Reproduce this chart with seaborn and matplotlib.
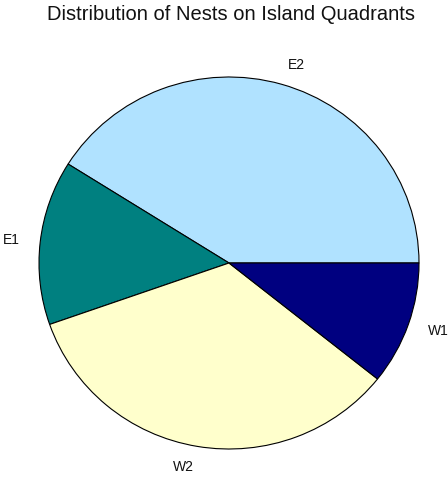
import matplotlib
matplotlib.use("Agg")
import matplotlib.pyplot as plt
import seaborn as sns

# Data
quadrants = ["E2", "E1", "W2", "W1"]
nests = [23, 8, 19, 6]
colors = ["#B0E2FF", "#008080", "#FFFFCC", "#000080"]

sns.set_theme(style="white")
plt.rcParams["font.family"] = ["Liberation Sans", "DejaVu Sans"]

fig = plt.figure(figsize=(4.48, 4.84), dpi=100)
W, H = 448, 484
cx, cy, rx, ry = 229, 263, 190, 186
ax = fig.add_axes([(cx - rx) / W, (H - cy - ry) / H, 2 * rx / W, 2 * ry / H])

wedges, texts = ax.pie(
    nests,
    labels=quadrants,
    colors=colors,
    startangle=0,
    counterclock=True,
    labeldistance=1.11,
    wedgeprops=dict(edgecolor="black", linewidth=0.8),
    textprops=dict(fontsize=10, color="#111111"),
)
ax.set_aspect("auto")
ax.set_xlim(-1, 1)
ax.set_ylim(-1, 1)
ax.axis("off")

fig.text(231 / W, 1 - 20 / H, "Distribution of Nests on Island Quadrants",
         ha="center", va="baseline", fontsize=14.5, color="#111111")

fig.savefig("out.png", dpi=100)
